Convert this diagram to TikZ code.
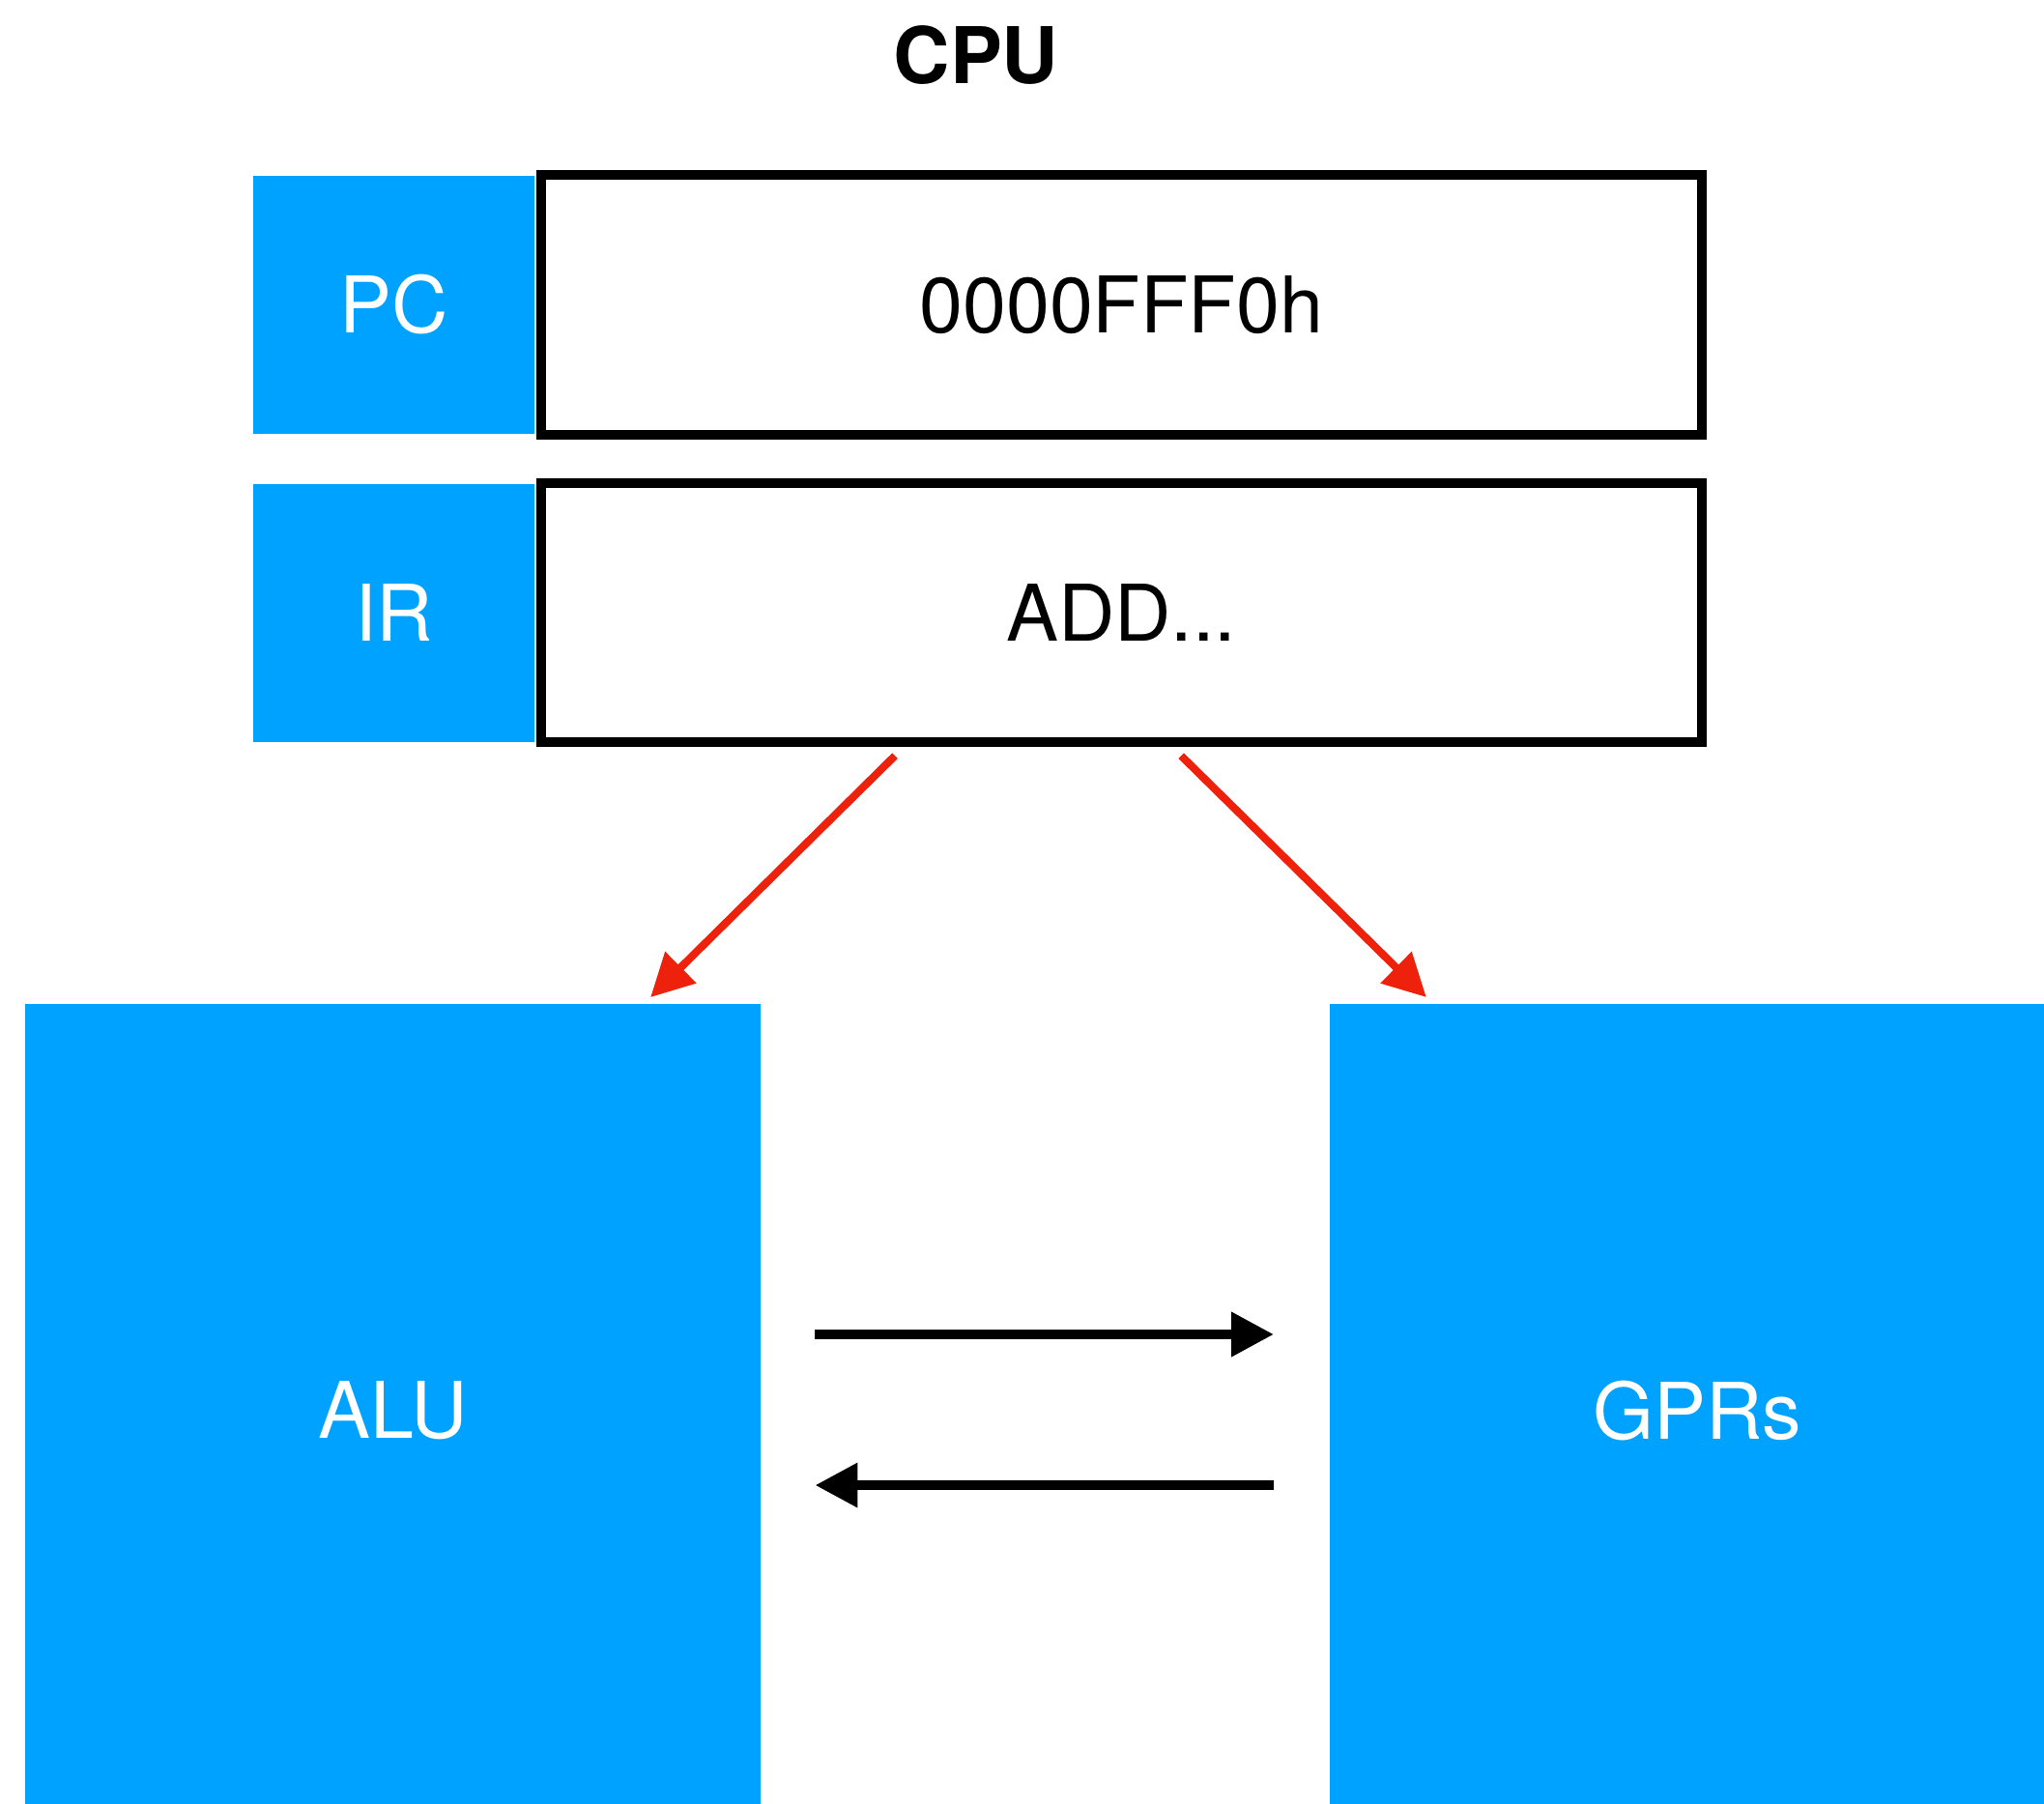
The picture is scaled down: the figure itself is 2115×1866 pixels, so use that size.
\documentclass[tikz,border=0pt]{standalone}
\usepackage{fontspec}
\setmainfont{TeX Gyre Heros}
\usepackage{tikz}
\usetikzlibrary{arrows.meta, positioning}
\definecolor{cpublue}{RGB}{0,162,255}
\definecolor{decodered}{RGB}{238,34,12}
\newcommand{\cpufont}{\fontsize{23}{28}\selectfont}
\tikzstyle{title}    = [font=\cpufont\bfseries, inner sep=0pt]
\tikzstyle{regname}  = [rectangle, fill=cpublue, text=white, minimum width=2.91cm, minimum height=2.67cm, inner sep=0pt, font=\cpufont]
\tikzstyle{regvalue} = [rectangle, draw=black, line width=0.1cm, fill=white, minimum width=12cm, minimum height=2.68cm, inner sep=0pt, font=\cpufont]
\tikzstyle{unit}     = [rectangle, fill=cpublue, text=white, minimum width=7.6cm, minimum height=8.42cm, inner sep=0pt, font=\cpufont]
\tikzstyle{decode}   = [draw=decodered, line width=0.08cm, -{Triangle[length=0.44cm, width=0.44cm]}]
\tikzstyle{bus}      = [line width=0.1cm, -{Triangle[length=0.44cm, width=0.44cm]}]

\begin{document}
\begin{tikzpicture}[x=0.01cm, y=-0.01cm]
      \useasboundingbox (0,0) rectangle (2115,1866);
      \clip (0,0) rectangle (2115,1866);
      % Nodes
      \node (cpu_title)  [title] at (1010,57) {CPU};
      %% Registers
      \node (pc_label)   [regname] at (407.5,315.5)            {PC};
      \node (pc_value)   [regvalue, right=0.01cm of pc_label]  {0000FFF0h};
      \node (ir_label)   [regname, below=0.5cm of pc_label]    {IR};
      \node (ir_value)   [regvalue, right=0.01cm of ir_label]  {ADD...};
      %% Units
      \node (alu)        [unit] at (406.5,1460)                {ALU};
      \node (gprs)       [unit] at (1756,1460)                 {GPRs};

      % % Arrows
      \draw [decode] ([xshift=-2.34cm, yshift=-0.09cm]ir_value.south) -- ([xshift=2.665cm, yshift=0.06cm]alu.north);
      \draw [decode] ([xshift=0.62cm, yshift=-0.09cm]ir_value.south)  -- ([xshift=-2.80cm, yshift=0.06cm]gprs.north);
      \draw [bus, shorten <=0.56cm, shorten >=0.57cm] ([yshift=0.79cm]alu.east)   -- ([yshift=0.79cm]gprs.west);
      \draw [bus, shorten <=0.57cm, shorten >=0.56cm] ([yshift=-0.77cm]gprs.west) -- ([yshift=-0.77cm]alu.east);
\end{tikzpicture}
\end{document}
